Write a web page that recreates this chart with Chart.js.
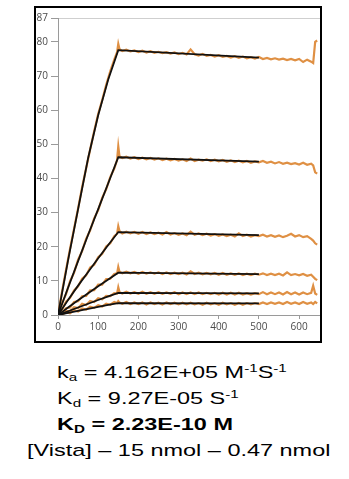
<!DOCTYPE html>
<html>
<head>
<meta charset="utf-8">
<script src="https://cdn.jsdelivr.net/npm/chart.js@4"></script>
<style>
  html, body { margin: 0; padding: 0; background: #fff; }
  body { width: 349px; height: 479px; position: relative; overflow: hidden; }
  .box { position: absolute; left: 34px; top: 6px; width: 288px; height: 337px;
         border: 2px solid #000; box-sizing: border-box; }
  .box canvas { position: absolute; left: 0; top: 0; }
  .ln { position: absolute; font: 17px "Liberation Sans", Arial, sans-serif; line-height: 17px;
        transform: scaleX(1.38); transform-origin: 0 0; white-space: nowrap; color: #000; }
  .ln.b { font-weight: bold; }
  sub, sup { font-size: 11px; line-height: 0; position: relative; vertical-align: baseline; }
  sub { top: 3px; }
  sup { top: -6px; }
</style>
</head>
<body>
<div class="box"><canvas id="sensorgram" width="284" height="333"></canvas></div>
<div class="ln" style="left:57px;top:364px">k<sub>a</sub> = 4.162E+05 M<sup>-1</sup>S<sup>-1</sup></div>
<div class="ln" style="left:57px;top:390px">K<sub>d</sub> = 9.27E-05 S<sup>-1</sup></div>
<div class="ln b" style="left:57px;top:416px">K<sub>D</sub> = 2.23E-10 M</div>
<div class="ln" style="left:27px;top:442px">[Vista] – 15 nmol – 0.47 nmol</div>
<script>
// time axis (s) of measured response
const tObs = [0, 10, 20, 30, 40, 50, 60, 70, 80, 90, 100, 110, 120, 130, 140, 147, 150, 153,
  160, 170, 180, 190, 200, 210, 220, 230, 240, 250,
  260, 270, 280, 290, 300, 310, 320, 330, 340, 350,
  360, 370, 380, 390, 400, 410, 420, 430, 440, 450,
  460, 470, 480, 490, 500, 510, 520, 530, 540, 550,
  560, 570, 580, 590, 600, 610, 620, 630, 635, 640, 645];

// measured response (orange), one per concentration
const obs1 = [0, 6.8, 13.2, 19.4, 25.3, 31.2, 37.4, 43.0, 48.5, 53.8, 58.9, 63.0, 67.4, 71.4, 74.8, 77.0, 79.4, 77.9,
  77.3, 77.7, 77.2, 77.5, 77.0, 77.4, 76.9, 77.3, 76.8, 77.1,
  76.7, 77.0, 76.6, 76.9, 76.4, 76.8, 76.3, 77.8, 76.4, 76.0,
  76.5, 75.9, 76.2, 75.7, 76.1, 75.6, 75.9, 75.4, 75.8, 75.3,
  75.7, 75.2, 75.5, 75.1, 75.6, 75.0, 75.3, 74.9, 75.2, 74.8,
  75.1, 74.7, 75.0, 74.6, 75.0, 74.1, 74.8, 74.2, 73.8, 80.0, 80.4];
const obs2 = [0, 3.5, 6.1, 9.9, 12.4, 16.2, 18.7, 22.3, 24.8, 28.3, 30.7, 34.3, 36.9, 40.4, 42.9, 45.4, 49.4, 46.5,
  46.0, 46.4, 45.8, 46.2, 45.7, 46.1, 45.6, 46.0, 45.5, 45.9,
  45.4, 45.8, 45.3, 45.7, 45.2, 45.6, 45.1, 45.8, 45.1, 45.5,
  45.2, 45.6, 45.1, 45.5, 45.0, 45.4, 44.9, 45.3, 44.8, 45.2,
  44.7, 45.1, 44.6, 45.0, 44.7, 45.1, 44.6, 44.9, 44.4, 44.8,
  44.3, 44.6, 44.2, 44.5, 44.1, 44.6, 44.0, 44.3, 43.8, 41.8, 41.4];
const obs3 = [0, 1.6, 3.9, 5.0, 7.2, 8.4, 10.6, 11.6, 13.9, 14.7, 16.9, 17.9, 20.1, 21.0, 23.1, 23.8, 26.0, 24.6,
  23.9, 24.4, 23.9, 24.3, 23.8, 24.3, 23.7, 24.2, 23.7, 24.1,
  23.6, 24.3, 23.6, 24.0, 23.5, 23.9, 23.4, 24.4, 23.5, 23.9,
  23.4, 23.8, 23.3, 23.7, 23.2, 23.6, 23.1, 23.5, 23.0, 23.9,
  23.1, 23.5, 23.0, 23.4, 23.1, 23.5, 23.0, 23.4, 22.9, 23.3,
  22.8, 23.2, 23.8, 23.0, 23.4, 22.8, 23.1, 22.3, 21.8, 21.0, 20.6];
const obs4 = [0, 0.5, 2.0, 2.2, 3.8, 4.0, 5.5, 5.6, 7.2, 7.3, 8.9, 8.9, 10.5, 10.6, 12.0, 12.2, 14.1, 12.7,
  12.2, 12.7, 12.2, 12.6, 12.1, 12.6, 12.1, 12.5, 12.1, 12.5,
  12.0, 12.5, 12.0, 12.4, 12.0, 12.4, 11.9, 12.8, 12.0, 12.4,
  11.9, 12.3, 11.9, 12.3, 11.8, 12.3, 11.8, 12.2, 11.8, 12.2,
  11.7, 12.1, 11.7, 12.1, 11.8, 12.2, 11.7, 12.1, 11.7, 12.1,
  11.6, 12.5, 11.7, 12.0, 11.6, 12.0, 11.5, 11.8, 11.2, 10.6, 10.2];
const obs5 = [0, 0.2, 1.2, 1.0, 2.3, 2.0, 3.3, 2.9, 4.1, 3.8, 4.9, 4.6, 5.6, 5.5, 6.4, 6.3, 8.1, 6.7,
  6.3, 6.8, 6.3, 6.7, 6.2, 6.8, 6.2, 6.7, 6.2, 6.7,
  6.2, 6.6, 6.2, 6.7, 6.1, 6.6, 6.1, 6.6, 6.1, 6.6,
  6.1, 6.5, 6.1, 6.5, 6.0, 6.5, 6.0, 6.5, 6.0, 6.5,
  6.0, 6.4, 6.0, 6.4, 6.1, 6.7, 6.1, 6.6, 6.1, 6.6,
  6.0, 6.7, 6.1, 6.6, 6.0, 6.6, 6.1, 6.5, 8.6, 6.3, 5.9];
const obs6 = [0, 0.1, 0.8, 0.5, 1.4, 1.0, 1.9, 1.6, 2.4, 2.1, 2.9, 2.5, 3.3, 3.0, 3.8, 3.5, 4.1, 3.7,
  3.3, 3.8, 3.2, 3.7, 3.2, 3.7, 3.1, 3.7, 3.2, 3.6,
  3.1, 3.7, 3.2, 3.6, 3.1, 3.6, 3.1, 3.6, 3.1, 3.5,
  3.0, 3.6, 3.1, 3.5, 3.0, 3.6, 3.1, 3.5, 3.0, 3.5,
  3.0, 3.5, 3.1, 3.5, 3.2, 3.7, 3.2, 3.7, 3.3, 3.7,
  3.2, 3.8, 3.3, 3.7, 3.2, 3.8, 3.3, 3.7, 3.2, 3.8, 3.4];

// 1:1 fit curves (black)
const tFit = [0, 25, 50, 75, 100, 125, 150, 500];
const fit1 = [0, 16, 31, 46, 58.5, 69, 77.6, 75.4];
const fit2 = [0, 8.0, 15.8, 23.5, 31.0, 38.6, 46.2, 44.9];
const fit3 = [0, 4.4, 8.6, 12.6, 16.6, 20.5, 24.3, 23.4];
const fit4 = [0, 2.2, 4.3, 6.4, 8.4, 10.4, 12.4, 12.0];
const fit5 = [0, 1.1, 2.2, 3.3, 4.4, 5.45, 6.5, 6.35];
const fit6 = [0, 0.6, 1.2, 1.8, 2.4, 2.95, 3.5, 3.4];

const xTickValues = [0, 100, 200, 300, 400, 500, 600];
const yTop = 87;

const obsSeries = [obs1, obs2, obs3, obs4, obs5, obs6];
const fitSeries = [fit1, fit2, fit3, fit4, fit5, fit6];

const toPoints = (xs, ys) => xs.map((x, i) => ({ x, y: ys[i] }));

const datasets = [];
fitSeries.forEach((ys) => {
  datasets.push({
    data: toPoints(tFit, ys),
    borderColor: '#111',
    borderWidth: 1.8,
    pointRadius: 0,
    showLine: true,
    order: 0,
  });
});
obsSeries.forEach((ys) => {
  datasets.push({
    data: toPoints(tObs, ys),
    borderColor: '#df9044',
    borderWidth: 2.2,
    pointRadius: 0,
    showLine: true,
    order: 1,
  });
});

const tickFont = { family: 'Open Sans', size: 10 };

new Chart(document.getElementById('sensorgram').getContext('2d'), {
  type: 'scatter',
  data: { datasets },
  options: {
    responsive: false,
    animation: false,
    events: [],
    layout: { padding: { top: 10, right: 0, left: 0, bottom: 0 } },
    plugins: { legend: { display: false }, tooltip: { enabled: false } },
    scales: {
      x: {
        type: 'linear',
        min: 0,
        max: 652,
        afterBuildTicks(scale) {
          scale.ticks = xTickValues.map((v) => ({ value: v }));
        },
        afterFit(scale) { scale.height = 26; },
        border: { color: '#9a9a9a', width: 1 },
        grid: { drawOnChartArea: false, tickLength: 4, tickColor: '#9a9a9a' },
        ticks: { color: '#4a4a4a', font: tickFont, padding: 2, maxRotation: 0 },
      },
      y: {
        min: 0,
        max: yTop,
        ticks: { stepSize: 10, color: '#4a4a4a', font: tickFont, padding: 3 },
        afterFit(scale) { scale.width = 22; },
        border: { color: '#9a9a9a', width: 1 },
        grid: {
          color: (ctx) => (ctx.tick && ctx.tick.value === yTop ? '#cfcfcf' : 'rgba(0,0,0,0)'),
          tickColor: '#9a9a9a',
          tickLength: 7,
        },
      },
    },
  },
});
</script>
</body>
</html>
